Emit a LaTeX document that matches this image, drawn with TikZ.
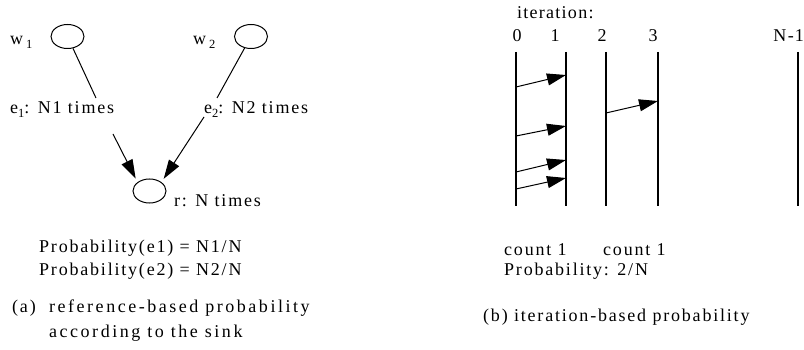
\documentclass[tikz,border=0pt]{standalone}
\usepackage{fontspec}
\setmainfont{Liberation Serif}[LetterSpace=10]
\usetikzlibrary{arrows.meta,shapes.geometric}
\newcommand\mysub[1]{\raisebox{-4pt}{\fontsize{12.5}{12.5}\selectfont #1}}
\begin{document}
\begin{tikzpicture}[x=1pt,y=-1pt,
  font=\fontsize{18}{22}\selectfont,
  txt/.style={inner sep=0pt, anchor=base west},
  ctxt/.style={inner sep=0pt, anchor=base},
  ell/.style={draw, ellipse, line width=1pt, minimum width=33pt, minimum height=24pt, inner sep=0pt},
  edgeline/.style={line width=1pt},
  arr/.style={line width=1pt, -{Triangle[length=19pt,width=12pt]}},
  vline/.style={line width=1.6pt}]
\path[use as bounding box] (0,0) rectangle (804,350);

% ---------- (a) ----------
\node[ell] (w1) at (67.5,36.5) {};
\node[ell] (w2) at (251,36.5) {};
\node[ell] (r) at (149.5,191) {};
\node[txt] (w1lab) at (10,45) {w\,\mysub{1}};
\node[txt] (w2lab) at (193,45) {w\,\mysub{2}};
\node[txt] (e1lab) at (10,114) {e\mysub{1}: N1 times};
\node[txt] (e2lab) at (204,114) {e\mysub{2}: N2 times};
\node[txt] (rlab) at (174,207) {r: N times};
\coordinate (e1top) at (96,98);
\coordinate (e1bot) at (113,134);
\coordinate (e2top) at (217,98);
\coordinate (e2bot) at (204,117);
\draw[edgeline] (w1) -- (e1top);
\draw[arr, shorten >=4pt] (e1bot) -- (r.north west);
\draw[edgeline] (w2) -- (e2top);
\draw[arr, shorten >=4pt] (e2bot) -- (r.north east);

\node[txt] (p1) at (39,252.5) {Probability(e1) = N1/N};
\node[txt] (p2) at (39,275) {Probability(e2) = N2/N};
\node[txt] (capa) at (12,312) {(a)};
\node[txt] (capa1) at (49,312) {\addfontfeatures{LetterSpace=14}reference-based probability};
\node[txt] (capa2) at (49,337) {\addfontfeatures{LetterSpace=14}according to the sink};

% ---------- (b) ----------
\node[txt] (iter) at (517,19) {\addfontfeatures{LetterSpace=7}iteration:};
\node[ctxt] (n0) at (517,42) {0};
\node[ctxt] (n1) at (555,42) {1};
\node[ctxt] (n2) at (602,42) {2};
\node[ctxt] (n3) at (653,42) {3};
\node[inner sep=0pt, anchor=base east] (nN) at (804,42) {\addfontfeatures{LetterSpace=0}N\kern1.5pt-\kern1pt1};

\foreach \n/\x in {0/516,1/566,2/606,3/658,4/798}{
  \coordinate (t\n) at (\x,52);
  \coordinate (b\n) at (\x,206);
  \draw[vline] (t\n) -- (b\n);
}
\coordinate (a1s) at (516,87);  \coordinate (a1e) at (566,75);
\coordinate (a2s) at (516,136); \coordinate (a2e) at (566,126);
\coordinate (a3s) at (516,172); \coordinate (a3e) at (566,160);
\coordinate (a4s) at (516,189); \coordinate (a4e) at (566,178);
\coordinate (a5s) at (606,113); \coordinate (a5e) at (658,101);
\foreach \k in {1,...,5}{ \draw[arr] (a\k s) -- (a\k e); }

\node[txt] (c1) at (504,255) {count 1};
\node[txt] (c2) at (603,255) {count 1};
\node[txt] (pb) at (504,276) {Probability: 2/N};
\node[txt] (capb) at (483,321) {(b) iteration-based probability};
\end{tikzpicture}
\end{document}
